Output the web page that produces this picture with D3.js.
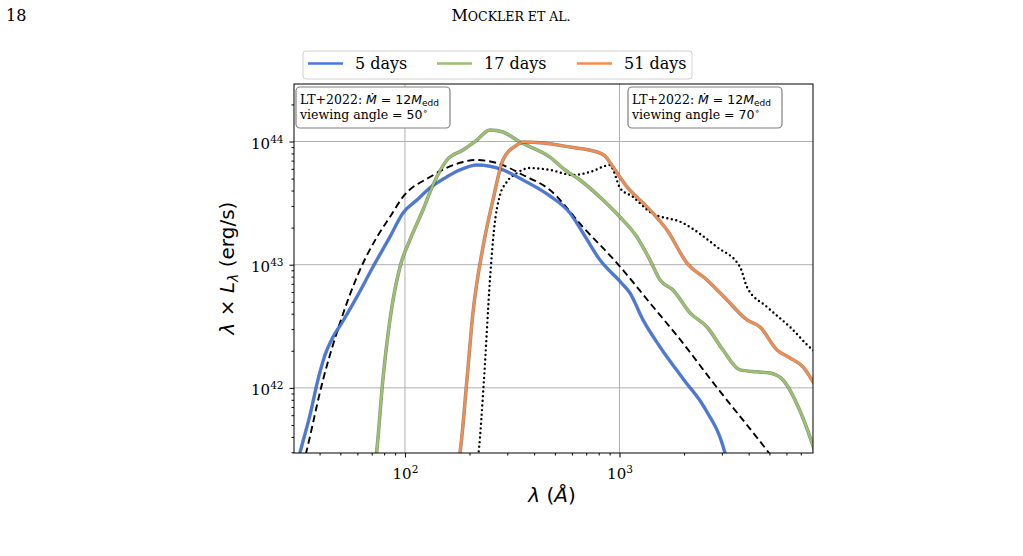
<!DOCTYPE html>
<html>
<head>
<meta charset="utf-8">
<script src="https://cdn.jsdelivr.net/npm/d3@7"></script>
<style>
  body { margin: 0; background: #fff; }
  svg { display: block; }
  .serif { font-family: "DejaVu Serif", "Liberation Serif", serif; }
  .sans { font-family: "DejaVu Sans", sans-serif; }
</style>
</head>
<body>
<script>
const width = 1023;
const height = 556;

// plot box in page pixels
const plotLeft = 294, plotRight = 813, plotTop = 84, plotBottom = 453;

// wavelength in Angstrom, luminance in units of 1e42 erg/s
const wave5 = [31.4, 32.4, 36.1, 39.3, 42.4, 46.2, 50.8, 59.7, 70.9, 85.1, 97.9, 113.7, 130.8, 153.7, 180.5, 216.6, 286.4, 354.9, 474.2, 587.7, 675.8, 811.4, 1011, 1119, 1287, 1545, 1998, 2477, 3103, 3205];
const lum5 = [0.237, 0.296, 0.603, 1.16, 1.85, 2.59, 3.37, 5.47, 9.58, 16.8, 26.3, 33.5, 42.0, 50.6, 58.8, 64.4, 58.8, 48.7, 36.1, 26.3, 18.1, 10.9, 7.24, 5.89, 3.56, 2.15, 1.16, 0.700, 0.296, 0.237];

const wave17 = [72.5, 73.7, 78.9, 85.1, 94.8, 105.5, 121.3, 135.1, 157, 186.4, 216.6, 249, 286.4, 343.6, 474.2, 557, 654.5, 837.6, 1005, 1206, 1388, 1545, 1776, 2132, 2558, 3037, 3646, 4375, 5030, 5783, 6943, 7983, 8242];
const lum17 = [0.237, 0.296, 1.16, 3.56, 9.58, 15.9, 27.8, 44.4, 70.8, 85.3, 102.8, 124, 119.4, 99.1, 74.8, 58.8, 48.7, 33.5, 24.4, 16.8, 10.9, 7.52, 6.23, 4.06, 3.12, 2.03, 1.40, 1.35, 1.32, 1.16, 0.649, 0.338, 0.285];

const wave51 = [176.6, 180.5, 194.5, 207.5, 231, 257.2, 286.4, 332.7, 354.9, 440, 587.7, 785.6, 855.7, 932.6, 1084, 1344, 1665, 2064, 2558, 3171, 3930, 4519, 5424, 6236, 7170, 7983, 8242];
const lum51 = [0.237, 0.296, 1.16, 4.06, 13.9, 33.5, 70.8, 93.7, 99.1, 97.3, 90.2, 82.2, 76.3, 62.1, 42.8, 29.4, 19.1, 10.3, 7.52, 5.17, 3.56, 3.12, 2.03, 1.75, 1.48, 1.12, 1.02];

// LT+2022, viewing angle 50 deg (dashed)
const waveLT50 = [33.5, 34.6, 41.5, 49.8, 61.7, 74.1, 85.1, 97.9, 130.8, 186.4, 212, 268.5, 354.9, 474.2, 675.8, 973, 1388, 1977, 2671, 4977, 5483];
const lumLT50 = [0.237, 0.296, 1.16, 3.37, 9.07, 16.8, 24.4, 35.5, 51.5, 68.2, 70.8, 66.9, 53.5, 40.4, 20.2, 10.3, 4.88, 2.31, 1.16, 0.296, 0.237];

// LT+2022, viewing angle 70 deg (dotted)
const waveLT70 = [216.6, 220.3, 233.5, 249, 260, 277.4, 295.8, 332.7, 382.6, 474.2, 607, 728.9, 903, 942.7, 1005, 1156, 1388, 1977, 2848, 3646, 3930, 4871, 6236, 7983, 8242];
const lumLT70 = [0.237, 0.296, 1.16, 7.52, 19.1, 36.8, 46.0, 55.5, 60.9, 58.8, 53.5, 56.5, 64.4, 56.5, 42.0, 35.5, 26.8, 21.8, 13.9, 9.58, 6.59, 4.54, 3.12, 2.03, 1.95];

const seriesNames = ["5 days", "17 days", "51 days"];
const seriesColors = ["#4179e8", "#98c26b", "#f48c4c"];

const svg = d3.select("body").append("svg")
  .attr("width", width)
  .attr("height", height);

const x = d3.scaleLog().domain([30.4, 7980]).range([plotLeft, plotRight]);
const y = d3.scaleLog().domain([2.96e41, 2.93e44]).range([plotBottom, plotTop]);

// header
svg.append("text").attr("class", "serif")
  .attr("x", 6).attr("y", 21)
  .attr("font-size", 16).text("18");
const head = svg.append("text").attr("class", "serif")
  .attr("x", 511).attr("y", 21).attr("text-anchor", "middle")
  .attr("font-size", 16);
head.append("tspan").text("M");
head.append("tspan").attr("font-size", 12.5).text("OCKLER ET AL.");

svg.append("defs").append("clipPath").attr("id", "clip")
  .append("rect")
  .attr("x", plotLeft).attr("y", plotTop)
  .attr("width", plotRight - plotLeft).attr("height", plotBottom - plotTop);

// grid at major ticks
const xMajor = [100, 1000];
const yMajor = [1e42, 1e43, 1e44];
const grid = svg.append("g");
grid.selectAll(".gx").data(xMajor).enter().append("line")
  .attr("x1", d => x(d)).attr("x2", d => x(d))
  .attr("y1", plotTop).attr("y2", plotBottom)
  .attr("stroke", "#b0b0b0").attr("stroke-width", 1);
grid.selectAll(".gy").data(yMajor).enter().append("line")
  .attr("x1", plotLeft).attr("x2", plotRight)
  .attr("y1", d => y(d)).attr("y2", d => y(d))
  .attr("stroke", "#b0b0b0").attr("stroke-width", 1);

// axes
const minorVals = (lo, hi, decades) => {
  const out = [];
  decades.forEach(p => {
    for (let m = 2; m <= 9; m++) {
      const v = m * Math.pow(10, p);
      if (v >= lo && v <= hi) out.push(v);
    }
  });
  return out;
};

const xMinor = minorVals(30.4, 7980, [1, 2, 3]);
const yMinor = minorVals(2.96e41, 2.93e44, [41, 42, 43, 44]);

svg.append("g")
  .attr("transform", `translate(0,${plotBottom})`)
  .call(d3.axisBottom(x).tickValues(xMinor).tickSize(2.5).tickFormat(""))
  .call(g => g.select(".domain").remove());
svg.append("g")
  .attr("transform", `translate(${plotLeft},0)`)
  .call(d3.axisLeft(y).tickValues(yMinor).tickSize(2.5).tickFormat(""))
  .call(g => g.select(".domain").remove());

const xAxis = svg.append("g")
  .attr("transform", `translate(0,${plotBottom})`)
  .call(d3.axisBottom(x).tickValues(xMajor).tickSize(4.5).tickPadding(6).tickFormat(""));
xAxis.select(".domain").remove();
xAxis.selectAll(".tick text")
  .attr("class", "serif").attr("font-size", 15).attr("fill", "#000")
  .attr("dy", "1.05em")
  .each(function(d) {
    const t = d3.select(this);
    t.append("tspan").text("10");
    t.append("tspan").attr("font-size", 10.5).attr("dy", "-0.55em")
      .text(Math.round(Math.log10(d)));
  });

const yAxis = svg.append("g")
  .attr("transform", `translate(${plotLeft},0)`)
  .call(d3.axisLeft(y).tickValues(yMajor).tickSize(4.5).tickPadding(6).tickFormat(""));
yAxis.select(".domain").remove();
yAxis.selectAll(".tick text")
  .attr("class", "serif").attr("font-size", 15).attr("fill", "#000")
  .attr("dy", "0.45em")
  .each(function(d) {
    const t = d3.select(this);
    t.append("tspan").text("10");
    t.append("tspan").attr("font-size", 10.5).attr("dy", "-0.55em")
      .text(Math.round(Math.log10(d)));
  });

// curves
const line = d3.line()
  .x(d => x(d[0]))
  .y(d => y(d[1] * 1e42))
  .curve(d3.curveMonotoneX);

const plot = svg.append("g").attr("clip-path", "url(#clip)");

const pairs = (w, l) => w.map((v, i) => [v, l[i]]);

plot.append("path")
  .datum(pairs(waveLT50, lumLT50))
  .attr("d", line)
  .attr("fill", "none").attr("stroke", "#000")
  .attr("stroke-width", 1.9).attr("stroke-dasharray", "7,4");

plot.append("path")
  .datum(pairs(waveLT70, lumLT70))
  .attr("d", line)
  .attr("fill", "none").attr("stroke", "#000")
  .attr("stroke-width", 2.4).attr("stroke-linecap", "round")
  .attr("stroke-dasharray", "0,4.6");

const colored = [pairs(wave5, lum5), pairs(wave17, lum17), pairs(wave51, lum51)];
colored.forEach((s, i) => {
  plot.append("path").datum(s).attr("d", line)
    .attr("fill", "none").attr("stroke", "#000").attr("stroke-opacity", 0.45)
    .attr("stroke-width", 3.5);
  plot.append("path").datum(s).attr("d", line)
    .attr("fill", "none").attr("stroke", seriesColors[i])
    .attr("stroke-width", 2.5);
});

// frame
svg.append("rect")
  .attr("x", plotLeft).attr("y", plotTop)
  .attr("width", plotRight - plotLeft).attr("height", plotBottom - plotTop)
  .attr("fill", "none").attr("stroke", "#000").attr("stroke-width", 1);

// annotation boxes
const note = (bx, by, angle) => {
  const g = svg.append("g");
  g.append("rect")
    .attr("x", bx).attr("y", by).attr("width", 154).attr("height", 41)
    .attr("rx", 4).attr("fill", "#fff").attr("stroke", "#808080").attr("stroke-width", 1.2);
  const t1 = g.append("text").attr("x", bx + 4).attr("y", by + 17).attr("font-size", 12.5);
  t1.append("tspan").attr("class", "serif").text("LT+2022: ");
  t1.append("tspan").attr("class", "sans").attr("font-style", "italic").text("Ṁ");
  t1.append("tspan").attr("class", "sans").text(" = 12");
  t1.append("tspan").attr("class", "sans").attr("font-style", "italic").text("M");
  t1.append("tspan").attr("class", "sans").attr("font-size", 9).attr("dy", 2).text("edd");
  const t2 = g.append("text").attr("x", bx + 4).attr("y", by + 32).attr("font-size", 12.5);
  t2.append("tspan").attr("class", "serif").text("viewing angle ");
  t2.append("tspan").attr("class", "sans").text(" = " + angle);
  t2.append("tspan").attr("class", "sans").attr("font-size", 9).attr("dy", -5).text("∘");
};
note(296, 87, 50);
note(628, 87, 70);

// legend
const lg = svg.append("g");
lg.append("rect")
  .attr("x", 303).attr("y", 51).attr("width", 389).attr("height", 28)
  .attr("rx", 3).attr("fill", "#fff").attr("stroke", "#d0d0d0").attr("stroke-width", 1);
const legX = [308, 437, 577];
seriesNames.forEach((n, i) => {
  lg.append("line")
    .attr("x1", legX[i]).attr("x2", legX[i] + 35).attr("y1", 63.5).attr("y2", 63.5)
    .attr("stroke", seriesColors[i]).attr("stroke-width", 2.6);
  lg.append("text").attr("class", "serif")
    .attr("x", legX[i] + 47).attr("y", 69)
    .attr("font-size", 16).text(n);
});

// axis labels
const yl = svg.append("text").attr("class", "sans")
  .attr("transform", "translate(234,268) rotate(-90)")
  .attr("text-anchor", "middle").attr("font-size", 20);
yl.append("tspan").attr("font-style", "italic").text("λ");
yl.append("tspan").text(" × ");
yl.append("tspan").attr("font-style", "italic").text("L");
yl.append("tspan").attr("font-style", "italic").attr("font-size", 14).attr("dy", 4).text("λ");
yl.append("tspan").attr("dy", -4).text(" (erg/s)");

const xl = svg.append("text").attr("class", "sans")
  .attr("x", 552).attr("y", 502)
  .attr("text-anchor", "middle").attr("font-size", 20);
xl.append("tspan").attr("font-style", "italic").text("λ");
xl.append("tspan").text(" (");
xl.append("tspan").attr("font-style", "italic").text("Å");
xl.append("tspan").text(")");
</script>
</body>
</html>
